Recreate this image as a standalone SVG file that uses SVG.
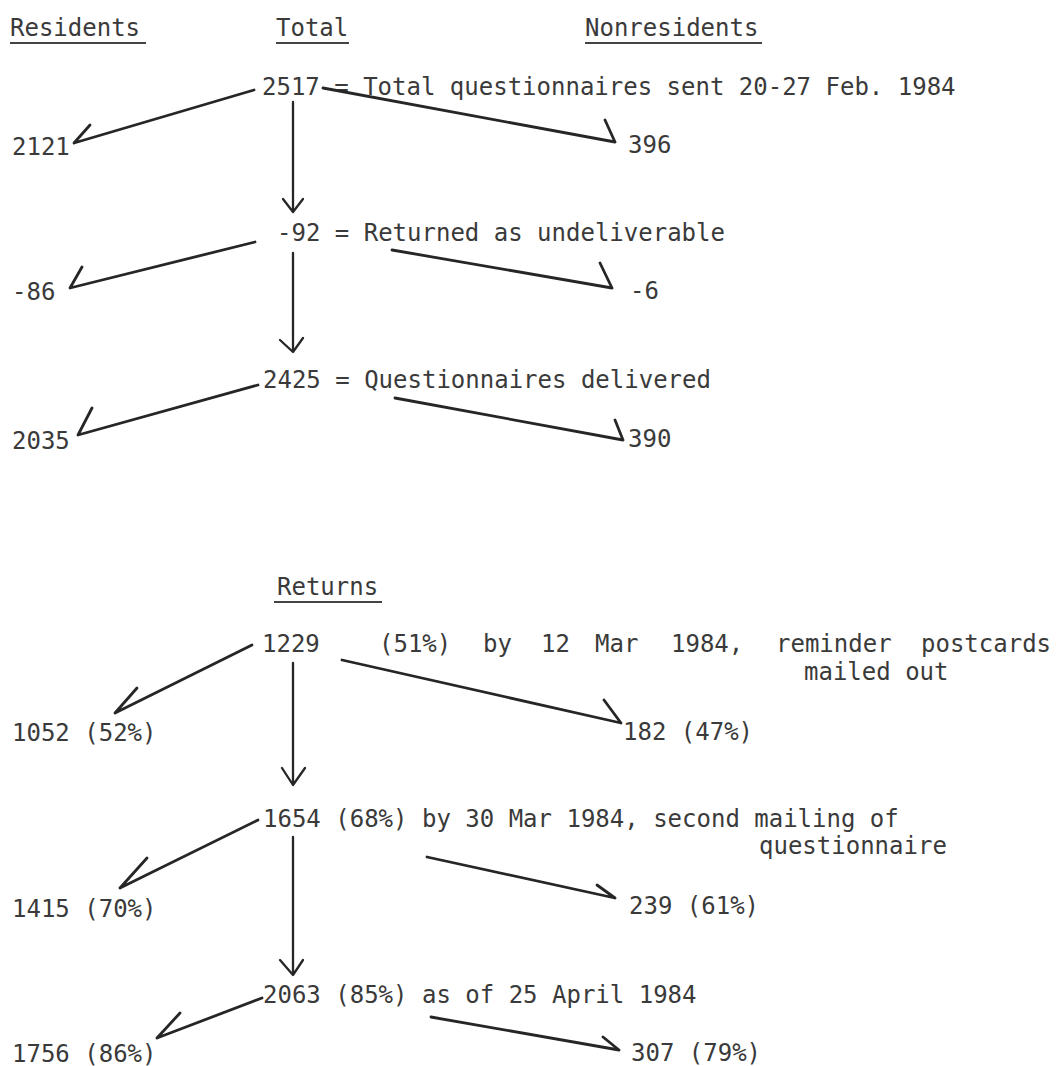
<svg xmlns="http://www.w3.org/2000/svg" width="1058" height="1066" viewBox="0 0 1058 1066">
<style>
text{font-family:"DejaVu Sans Mono","Liberation Mono",monospace;font-size:24px;fill:#3a3a3a}
.ul{stroke:#444;stroke-width:2;fill:none}
.c{stroke:#262626;stroke-width:2.8;fill:none;stroke-linecap:round;stroke-linejoin:round}
.v{stroke:#262626;stroke-width:2.3;fill:none;stroke-linecap:round;stroke-linejoin:round}
</style>
<rect width="1058" height="1066" fill="#fff"/>
<g id="headers">
<text x="10" y="36">Residents</text>
<line class="ul" x1="10" y1="43" x2="146" y2="43"/>
<text x="276" y="36">Total</text>
<line class="ul" x1="276" y1="43" x2="349" y2="43"/>
<text x="585" y="36">Nonresidents</text>
<line class="ul" x1="585" y1="43" x2="762" y2="43"/>
<text x="277" y="595">Returns</text>
<line class="ul" x1="274" y1="602" x2="382" y2="602"/>
</g>
<g id="n-sent"><text x="262" y="95">2517 = Total questionnaires sent 20-27 Feb. 1984</text></g>
<g id="n-sent-res"><text x="12" y="155">2121</text></g>
<g id="n-sent-non"><text x="628" y="153">396</text></g>
<g id="n-undeliv"><text x="277" y="241">-92 = Returned as undeliverable</text></g>
<g id="n-undeliv-res"><text x="12" y="300">-86</text></g>
<g id="n-undeliv-non"><text x="630" y="299">-6</text></g>
<g id="n-deliv"><text x="263" y="388">2425 = Questionnaires delivered</text></g>
<g id="n-deliv-res"><text x="12" y="449">2035</text></g>
<g id="n-deliv-non"><text x="628" y="447">390</text></g>
<g id="n-r1">
<text x="262" y="652">1229</text>
<text y="652"><tspan x="379">(51%)</tspan><tspan x="483">by</tspan><tspan x="541">12</tspan><tspan x="595">Mar</tspan><tspan x="671">1984,</tspan><tspan x="776">reminder</tspan><tspan x="921">postcards</tspan></text>
<text x="804" y="680">mailed out</text>
</g>
<g id="n-r1-res"><text x="12" y="741">1052 (52%)</text></g>
<g id="n-r1-non"><text x="623" y="740">182 (47%)</text></g>
<g id="n-r2">
<text x="263" y="827">1654 (68%) by 30 Mar 1984, second mailing of</text>
<text x="759" y="854">questionnaire</text>
</g>
<g id="n-r2-res"><text x="12" y="917">1415 (70%)</text></g>
<g id="n-r2-non"><text x="629" y="914">239 (61%)</text></g>
<g id="n-r3"><text x="263" y="1003">2063 (85%) as of 25 April 1984</text></g>
<g id="n-r3-res"><text x="12" y="1062">1756 (86%)</text></g>
<g id="n-r3-non"><text x="631" y="1061">307 (79%)</text></g>
<g id="connectors">
<path class="c" d="M254 90 L74 143 M74 143 L90 125"/>
<path class="c" d="M323 88 L615 142 M615 142 L605 120"/>
<path class="v" d="M293 102 L293 212 M283 199 L293 212 L303 199"/>
<path class="c" d="M255 242 L70 288 M70 288 L82 267"/>
<path class="c" d="M392 250 L612 288 M612 288 L600 263"/>
<path class="v" d="M293 253 L293 352 M280 340 L293 352 L303 338"/>
<path class="c" d="M258 385 L78 435 M78 435 L92 408"/>
<path class="c" d="M395 398 L623 440 M623 440 L615 420"/>
<path class="c" d="M252 645 L115 713 M115 713 L137 688"/>
<path class="c" d="M342 660 L621 723 M621 723 L604 700"/>
<path class="v" d="M293 663 L293 785 M282 768 L293 785 L305 768"/>
<path class="c" d="M258 820 L120 888 M120 888 L147 858"/>
<path class="c" d="M427 857 L615 898 M615 898 L597 885"/>
<path class="v" d="M293 837 L293 975 M280 960 L293 975 L303 960"/>
<path class="c" d="M262 998 L157 1038 M157 1038 L180 1013"/>
<path class="c" d="M431 1017 L619 1050 M619 1050 L603 1037"/>
</g>
</svg>
